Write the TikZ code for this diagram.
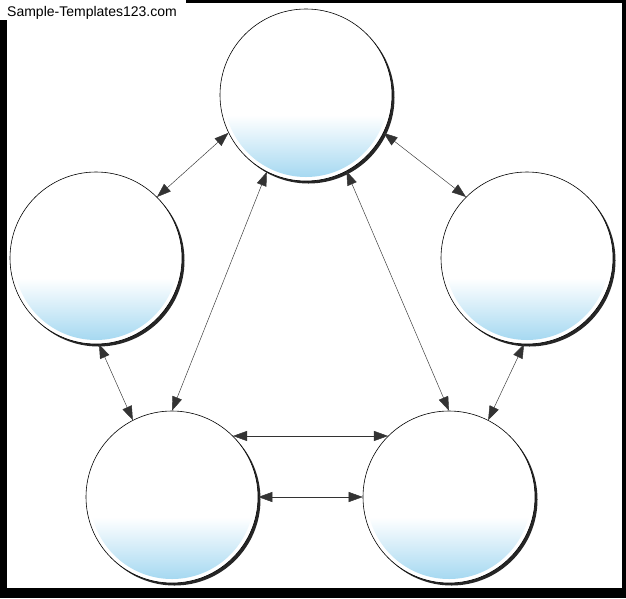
\documentclass[tikz,border=0pt]{standalone}
\usepackage{fontspec}
\setmainfont{Liberation Sans}
\usetikzlibrary{arrows.meta,shadows}
\definecolor{bubbletop}{RGB}{236,251,253}
\definecolor{bubblemid}{RGB}{214,245,251}
\definecolor{bubblebottom}{RGB}{160,214,240}
\tikzset{
x=1pt, y=-1pt,
bubble/.style={circle, draw=black, line width=0.6pt, minimum size=172pt, inner sep=0pt, fill=white,
  drop shadow={shadow xshift=2.5pt, shadow yshift=-2.5pt, opacity=0.85, fill=black},
  path picture={
    \clip (path picture bounding box.center) circle (82pt);
    \shade[top color=white, middle color=bubblemid, bottom color=bubblebottom]
      ([yshift=-20pt]path picture bounding box.west) rectangle (path picture bounding box.south east);
  }},
link/.style={{Triangle[length=14pt,width=10pt]}-{Triangle[length=14pt,width=10pt]}, line width=0.45pt, draw=black!80},
}

\begin{document}
\begin{tikzpicture}
        \useasboundingbox (0,0) rectangle (626,598);
        % frame
        \fill[black] (0,0) rectangle (626,598);
        \fill[white] (7,3) rectangle (622,588);
        \fill[white] (0,0) rectangle (186,20);
        \node[anchor=base west, inner sep=0pt, font=\fontsize{14}{16}\selectfont] (watermark) at (7,16) {Sample-Templates123.com};

        \node[bubble] (top) at (306,95) {};
        \node[bubble] (upleft) at (96,258) {};
        \node[bubble] (upright) at (527,258) {};
        \node[bubble] (lowleft) at (172,497) {};
        \node[bubble] (lowright) at (449,497) {};

        \draw[link] (top.206) -- (upleft.45);
        \draw[link] (top.334) -- (upright.135);
        \draw[link] (top.243) -- (lowleft.90);
        \draw[link] (top.298) -- (lowright.90);
        \draw[link] (upleft.272) -- (lowleft.117);
        \draw[link] (upright.268) -- (lowright.63);
        \draw[link] (lowleft.45) -- (lowright.135);
        \draw[link] (lowleft.0) -- (lowright.180);
    \end{tikzpicture}
\end{document}
